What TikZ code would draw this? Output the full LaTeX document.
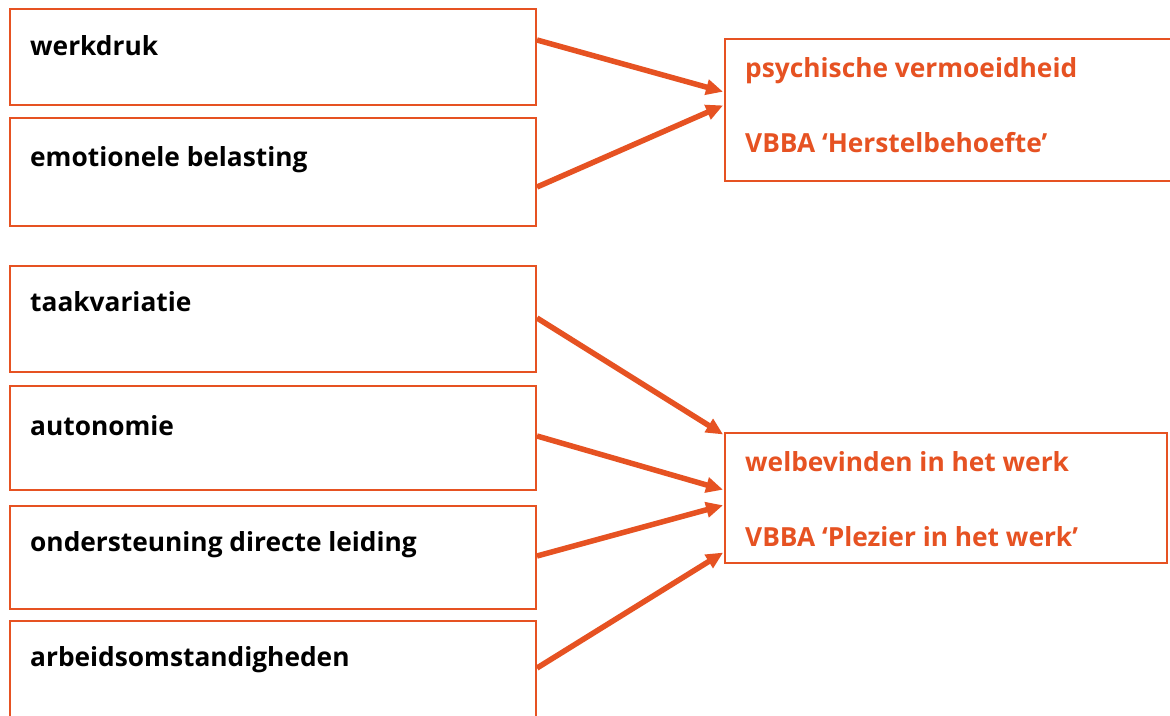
\documentclass[tikz,border=0pt]{standalone}
\usepackage{fontspec}
\setmainfont{Open Sans}
\usetikzlibrary{arrows.meta}
\definecolor{vbbaorange}{RGB}{230,82,34}
\tikzset{
  box/.style={draw=vbbaorange, line width=2pt, anchor=north west, inner sep=0pt},
  lbl/.style={anchor=base west, inner sep=0pt, font=\fontsize{26.3}{30}\selectfont\bfseries, text=black},
  olbl/.style={lbl, text=vbbaorange},
  conn/.style={draw=vbbaorange, line width=5.5pt, -{Triangle[length=17pt,width=15pt]}, shorten >=1pt},
}
\begin{document}
\begin{tikzpicture}[x=1pt,y=-1pt]
\useasboundingbox (0,0) rectangle (1170,715);
\fill[white] (0,0) rectangle (1170,715);
\clip (0,0) rectangle (1170,715);
% left boxes
\node[box, minimum width=526pt, minimum height=96pt]  (b1) at (9,8) {};
\node[box, minimum width=526pt, minimum height=108pt] (b2) at (9,117) {};
\node[box, minimum width=526pt, minimum height=106pt] (b3) at (9,265) {};
\node[box, minimum width=526pt, minimum height=104pt] (b4) at (9,385) {};
\node[box, minimum width=526pt, minimum height=103pt] (b5) at (9,505) {};
\node[box, minimum width=526pt, minimum height=120pt] (b6) at (9,620) {};
% right boxes
\node[box, minimum width=470pt, minimum height=142pt] (r1) at (724,38) {};
\node[box, minimum width=442pt, minimum height=130pt] (r2) at (724,432) {};
% texts
\node[lbl] (t1) at (30,55) {werkdruk};
\node[lbl] (t2) at (30,166) {emotionele belasting};
\node[lbl] (t3) at (30,311) {taakvariatie};
\node[lbl] (t4) at (30,435) {autonomie};
\node[lbl] (t5) at (30,551) {ondersteuning directe leiding};
\node[lbl] (t6) at (30,666) {arbeidsomstandigheden};
\node[olbl] (p1) at (745,77) {psychische vermoeidheid};
\node[olbl] (p2) at (745,152) {VBBA ‘Herstelbehoefte’};
\node[olbl] (q1) at (745,471) {welbevinden in het werk};
\node[olbl] (q2) at (745,546) {VBBA ‘Plezier in het werk’};
% connectors
\draw[conn] ([yshift=-32pt]b1.north east) -- ([yshift=-54pt]r1.north west);
\draw[conn] ([yshift=-70pt]b2.north east) -- ([yshift=-67pt]r1.north west);
\draw[conn] ([yshift=-53pt]b3.north east) -- ([yshift=-3pt]r2.north west);
\draw[conn] ([yshift=-51pt]b4.north east) -- ([yshift=-58pt]r2.north west);
\draw[conn] ([yshift=-51pt]b5.north east) -- ([yshift=-73pt]r2.north west);
\draw[conn] ([yshift=-48pt]b6.north east) -- ([yshift=-120pt]r2.north west);
\end{tikzpicture}
\end{document}
